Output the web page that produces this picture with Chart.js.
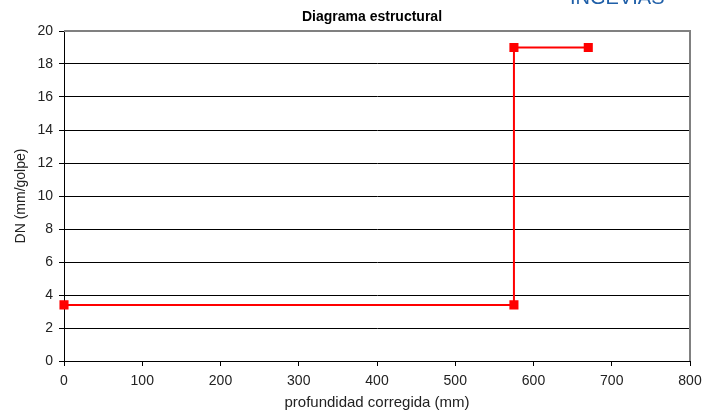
<!DOCTYPE html>
<html>
<head>
<meta charset="utf-8">
<script src="https://cdn.jsdelivr.net/npm/chart.js@4"></script>
<style>
  html, body { margin: 0; padding: 0; background: #fff; }
  #wrap { width: 706px; height: 414px; }
</style>
</head>
<body>
<div id="wrap"><canvas id="chart" width="706" height="414"></canvas></div>
<script>
// Data
const depth = [0, 575, 575, 670];
const dn = [3.4, 3.4, 19, 19];
const xTicks = [0, 100, 200, 300, 400, 500, 600, 700, 800];
const yTicks = [0, 2, 4, 6, 8, 10, 12, 14, 16, 18, 20];

const points = depth.map((d, i) => ({ x: d, y: dn[i] }));
const FONT = '"Liberation Sans", Arial, sans-serif';

// Title, logo text and grey plot border
const extras = {
    id: 'extras',
    afterDraw(chart) {
        const { ctx, chartArea: a } = chart;
        ctx.save();
        ctx.strokeStyle = '#808080';
        ctx.lineWidth = 2;
        ctx.beginPath();
        ctx.moveTo(a.left, a.top);
        ctx.lineTo(a.right, a.top);
        ctx.lineTo(a.right, a.bottom);
        ctx.stroke();
        ctx.fillStyle = '#000';
        ctx.font = 'bold 14px ' + FONT;
        ctx.textAlign = 'center';
        ctx.textBaseline = 'middle';
        ctx.fillText('Diagrama estructural', 372, 17);
        ctx.fillStyle = '#1f5fa8';
        ctx.font = '20px ' + FONT;
        ctx.textAlign = 'left';
        ctx.textBaseline = 'alphabetic';
        ctx.fillText('INGEVIAS', 570, 4);
        ctx.restore();
    }
};

new Chart(document.getElementById('chart'), {
    type: 'scatter',
    data: {
        datasets: [{
            data: points,
            showLine: true,
            clip: false,
            borderColor: '#ff0000',
            backgroundColor: '#ff0000',
            borderWidth: 2,
            pointStyle: 'rect',
            pointRadius: 5,
            pointHoverRadius: 5,
            tension: 0
        }]
    },
    options: {
        responsive: false,
        animation: false,
        layout: { padding: { top: 31, right: 16, left: 0, bottom: 0 } },
        plugins: { legend: { display: false }, tooltip: { enabled: false } },
        scales: {
            x: {
                type: 'linear',
                min: 0, max: 800,
                afterBuildTicks: (s) => { s.ticks = xTicks.map(v => ({ value: v })); },
                afterFit: (s) => { s.height = 53; s.paddingRight = 0; s.paddingLeft = 0; },
                grid: { drawOnChartArea: false, drawTicks: true, tickLength: 5, color: '#000', lineWidth: 1 },
                border: { color: '#000', width: 1 },
                ticks: { color: '#222', font: { family: FONT, size: 14 }, padding: 7 },
                title: { display: true, text: 'profundidad corregida (mm)', color: '#222',
                         font: { family: FONT, size: 15 }, padding: { top: 2, bottom: 2 } }
            },
            y: {
                type: 'linear',
                min: 0, max: 20,
                afterBuildTicks: (s) => { s.ticks = yTicks.map(v => ({ value: v })); },
                afterFit: (s) => { s.width = 64; s.paddingTop = 0; s.paddingBottom = 0; },
                grid: { color: '#000', lineWidth: 1, tickLength: 5 },
                border: { color: '#000', width: 1 },
                ticks: { color: '#222', font: { family: FONT, size: 14 }, padding: 6 },
                title: { display: true, text: 'DN (mm/golpe)', color: '#222',
                         font: { family: FONT, size: 14 }, padding: { top: 13, bottom: 0 } }
            }
        }
    },
    plugins: [extras]
});
</script>
</body>
</html>
